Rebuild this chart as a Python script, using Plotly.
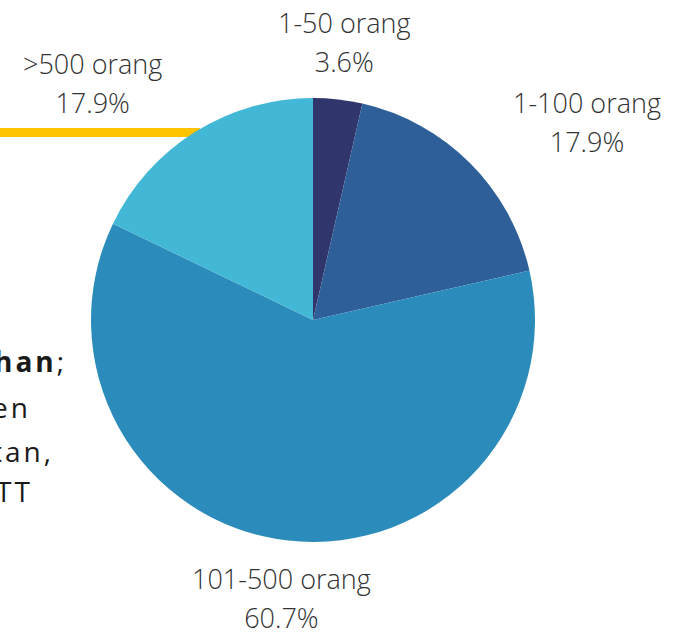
import math
import plotly.graph_objects as go

# ---- data ----
labels = ["1-50 orang", "1-100 orang", "101-500 orang", ">500 orang"]
counts = [1, 5, 17, 5]
colors = ["#30356b", "#2e5f98", "#2b8cbb", "#42b7d6"]
side_lines = ["<b>han</b>;", "en", "tan,", "TT"]

W, H = 677, 637
CX, CY, R = 313, 320, 222  # pie centre / radius in px
LABEL_R = 280

fig = go.Figure()
fig.add_trace(go.Pie(
    labels=labels, values=counts, sort=False, direction="clockwise", rotation=0,
    marker=dict(colors=colors, line=dict(width=0)),
    textinfo="none", hoverinfo="label+percent", showlegend=False,
    domain=dict(x=[(CX - R) / W, (CX + R) / W], y=[(H - CY - R) / H, (H - CY + R) / H]),
))

# yellow bar behind the pie
fig.add_shape(type="rect", xref="paper", yref="paper",
              x0=0, x1=200 / W, y0=1 - 137 / H, y1=1 - 128 / H,
              fillcolor="#ffc400", line=dict(width=0), layer="below")

total = sum(counts)
cum = 0
for lab, c in zip(labels, counts):
    mid = (cum + c / 2) / total * 2 * math.pi
    cum += c
    px = CX + LABEL_R * math.sin(mid)
    py = CY - LABEL_R * math.cos(mid)
    s = math.sin(mid)
    anchor = "center" if abs(s) < 0.3 else ("left" if s > 0 else "right")
    pct = f"{c / total * 100:.1f}%"
    txt = (f'<span style="font-size:27px">{lab}</span><br>'
           f'<span style="font-size:27px">{pct}</span>')
    fig.add_annotation(x=px / W, y=1 - py / H, xref="paper", yref="paper",
                       text=txt, showarrow=False, xanchor=anchor, yanchor="middle",
                       align="center",
                       font=dict(family="Open Sans", size=30, color="#333333", weight=300))

# partially visible side text
side_right = [69, 33, 56, 35]
side_y = [361, 407, 451, 491]
for t, rx, yy in zip(side_lines, side_right, side_y):
    fig.add_annotation(x=rx / W, y=1 - yy / H, xref="paper", yref="paper",
                       text=f'<span style="letter-spacing:3px">{t}</span>',
                       showarrow=False, xanchor="right", yanchor="middle",
                       font=dict(family="Open Sans", size=28, color="#1a1a1a", weight=400))

fig.update_layout(width=W, height=H, margin=dict(l=0, r=0, t=0, b=0),
                  paper_bgcolor="white", plot_bgcolor="white")
fig.write_html("out.html", config={"displayModeBar": False},
               post_script="document.body.style.margin='0';document.body.style.overflow='hidden';")
